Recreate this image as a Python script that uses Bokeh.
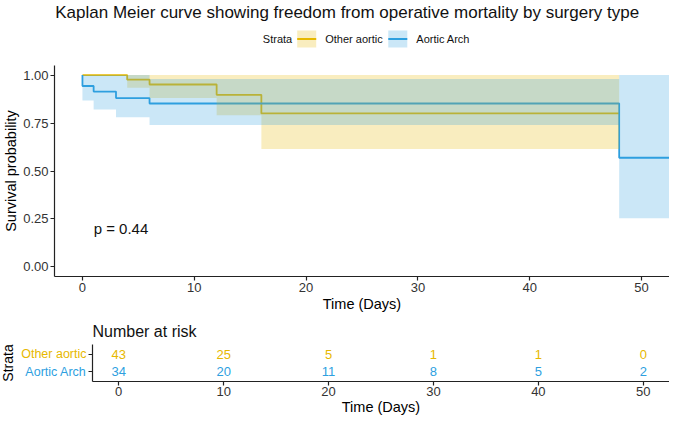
import math
from bokeh.plotting import figure
from bokeh.models import Range1d, FixedTicker, NumeralTickFormatter, ColumnDataSource
from bokeh.layouts import column, row
from bokeh.embed import file_html
from bokeh.resources import INLINE
from bokeh.core.properties import value

FONT = "Liberation Sans"
YELLOW = "#E7B800"
BLUE = "#2E9FDF"

# ---------------- data ----------------
title_text = "Kaplan Meier curve showing freedom from operative mortality by surgery type"
strata_names = ["Other aortic", "Aortic Arch"]
strata_colors = [YELLOW, BLUE]

other_time = [0, 4, 6, 12, 16, 48]
other_surv = [1.0, 0.976, 0.951, 0.897, 0.80, 0.80]
other_upper = [1.0, 1.0, 1.0, 1.0, 1.0, 1.0]
other_lower = [1.0, 0.934, 0.88, 0.79, 0.615, 0.615]

arch_time = [0, 0, 1, 3, 6, 48, 55]
arch_surv = [1.0, 0.943, 0.914, 0.88, 0.852, 0.569, 0.569]
arch_upper = [1.0, 1.0, 1.0, 1.0, 0.98, 1.0, 1.0]
arch_lower = [1.0, 0.867, 0.82, 0.78, 0.74, 0.254, 0.254]

p_value_text = "p = 0.44"
p_value_x = [1.0]
p_value_y = [0.2]

risk_times = [0, 10, 20, 30, 40, 50]
risk_other = [43, 25, 5, 1, 1, 0]
risk_arch = [34, 20, 11, 8, 5, 2]

x_ticks = [0, 10, 20, 30, 40, 50]
y_ticks = [0, 0.25, 0.5, 0.75, 1.0]

# ---------------- layout constants (pixels) ----------------
W = 669
HDR_H = 62
MAIN_H = 252
RISK_H = 104
LAB_W = 88
FRAME_L = 54.5          # left edge of the main plot frame (header is aligned to it)


def style_axes(fig, label_standoff=2, title_standoff=1):
    for ax in (fig.xaxis[0], fig.yaxis[0]):
        ax.axis_line_color = "#222222"
        ax.axis_line_width = 1.2
        ax.major_tick_line_color = "#222222"
        ax.major_tick_line_width = 1.2
        ax.major_tick_in = 0
        ax.major_tick_out = 4
        ax.minor_tick_line_color = None
        ax.major_label_text_font = FONT
        ax.major_label_text_font_size = "13px"
        ax.major_label_text_color = "#333333"
        ax.major_label_standoff = label_standoff
        ax.axis_label_text_font = FONT
        ax.axis_label_text_font_size = "14.5px"
        ax.axis_label_text_font_style = "normal"
        ax.axis_label_text_color = "#000000"
        ax.axis_label_standoff = title_standoff
    fig.xgrid.visible = False
    fig.ygrid.visible = False
    fig.outline_line_color = None


# ---------------- header: title + legend (page pixel coordinates) ----------------
hdr = figure(width=W, height=HDR_H, x_range=Range1d(FRAME_L, W), y_range=Range1d(0, HDR_H),
             output_backend="svg", toolbar_location=None,
             x_axis_location=None, y_axis_location=None, min_border=0,
             min_border_left=0, min_border_right=0, min_border_top=0, min_border_bottom=0)
hdr.grid.visible = False
hdr.outline_line_color = None
hdr.text(x=[347], y=[HDR_H - 11.5], text=[title_text], text_font=value(FONT),
         text_font_size="17px", text_color="#111111", text_align="center",
         text_baseline="middle")

leg_y = HDR_H - 38.5
key_left = [297, 388]
key_w = 19
key_h = 17
hdr.text(x=[292], y=[leg_y], text=["Strata"], text_font=value(FONT), text_font_size="11px",
         text_color="#111111", text_align="right", text_baseline="middle")
key_src = ColumnDataSource(dict(
    left=key_left, right=[k + key_w for k in key_left],
    bottom=[leg_y - key_h / 2] * 2, top=[leg_y + key_h / 2] * 2,
    y=[leg_y] * 2, tx=[k + key_w + 9 for k in key_left],
    label=strata_names, color=strata_colors))
hdr.quad(left="left", right="right", bottom="bottom", top="top", source=key_src,
         fill_color="color", fill_alpha=0.25, line_color=None)
hdr.segment(x0="left", x1="right", y0="y", y1="y", source=key_src,
            line_color="color", line_width=1.8)
hdr.text(x="tx", y="y", text="label", source=key_src, text_font=value(FONT),
         text_font_size="11px", text_color="#111111", text_align="left",
         text_baseline="middle")

# ---------------- main survival plot ----------------
p = figure(width=W, height=MAIN_H, x_range=Range1d(-2.5, 52.5), y_range=Range1d(-0.05, 1.05),
           output_backend="svg", toolbar_location=None,
           min_border_top=3, min_border_right=0, min_border_bottom=0, min_border_left=5)

p.step(other_time, other_surv, mode="after", line_color=YELLOW, line_width=1.8)
p.step(arch_time, arch_surv, mode="after", line_color=BLUE, line_width=1.8)
p.varea_step(x=other_time, y1=other_lower, y2=other_upper, step_mode="after",
             fill_color=YELLOW, fill_alpha=0.25)
p.varea_step(x=arch_time, y1=arch_lower, y2=arch_upper, step_mode="after",
             fill_color=BLUE, fill_alpha=0.25)
p.text(x=p_value_x, y=p_value_y, text=[p_value_text], text_font=value(FONT),
       text_font_size="15px", text_color="#111111", text_align="left", text_baseline="middle")

p.xaxis.axis_label = "Time (Days)"
p.yaxis.axis_label = "Survival probability"
p.xaxis.ticker = FixedTicker(ticks=x_ticks)
p.yaxis.ticker = FixedTicker(ticks=y_ticks)
p.yaxis.formatter = NumeralTickFormatter(format="0.00")
style_axes(p)

# ---------------- risk table ----------------
r = figure(width=W - LAB_W, height=RISK_H, x_range=Range1d(-2.5, 52.5), y_range=Range1d(0.45, 2.55),
           output_backend="svg", toolbar_location=None, title="Number at risk",
           min_border_left=4, min_border_right=0, min_border_top=30, min_border_bottom=37)
r.title.text_font = FONT
r.title.text_font_size = "16px"
r.title.text_font_style = "normal"
r.title.text_color = "#111111"
r.title.align = "left"
r.title.standoff = 10

src_o = ColumnDataSource(dict(x=risk_times, y=[2] * len(risk_times), t=[str(v) for v in risk_other]))
src_a = ColumnDataSource(dict(x=risk_times, y=[1] * len(risk_times), t=[str(v) for v in risk_arch]))
r.text(x="x", y="y", text="t", source=src_o, text_color=YELLOW, text_font=value(FONT),
       text_font_size="13px", text_align="center", text_baseline="middle")
r.text(x="x", y="y", text="t", source=src_a, text_color=BLUE, text_font=value(FONT),
       text_font_size="13px", text_align="center", text_baseline="middle")

r.xaxis.axis_label = "Time (Days)"
r.xaxis.ticker = FixedTicker(ticks=x_ticks)
r.yaxis.ticker = FixedTicker(ticks=[1, 2])
r.yaxis.major_label_overrides = {1: "", 2: ""}
style_axes(r, label_standoff=1, title_standoff=0)

lab = figure(width=LAB_W, height=RISK_H, x_range=Range1d(0, LAB_W), y_range=Range1d(0.45, 2.55),
             output_backend="svg", toolbar_location=None,
             x_axis_location=None, y_axis_location=None,
             min_border_left=0, min_border_right=0, min_border_top=30, min_border_bottom=37)
lab.grid.visible = False
lab.outline_line_color = None
lab_src = ColumnDataSource(dict(x=[LAB_W - 2, LAB_W - 2], y=[2, 1], t=strata_names,
                                c=strata_colors))
lab.text(x="x", y="y", text="t", text_color="c", source=lab_src, text_font=value(FONT),
         text_font_size="12.5px", text_align="right", text_baseline="middle")
lab.text(x=[7], y=[1.5], text=["Strata"], angle=math.pi / 2, text_font=value(FONT),
         text_font_size="14px", text_color="#000000", text_align="center",
         text_baseline="middle")

layout = column(hdr, p, row(lab, r, spacing=0), spacing=0)
open("out.html", "w").write(file_html(layout, INLINE))
